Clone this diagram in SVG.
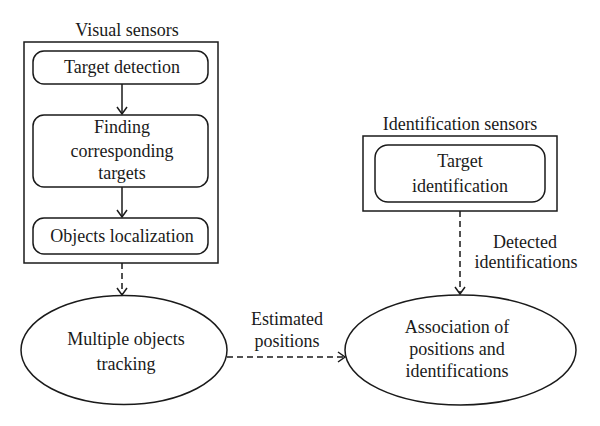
<svg xmlns="http://www.w3.org/2000/svg" width="600" height="426" viewBox="0 0 600 426">
<style>
text{font-family:"Liberation Serif","Times New Roman",serif;font-size:18px;fill:#1a1a1a;text-anchor:middle}
.box{fill:#fff;stroke:#1a1a1a;stroke-width:1.5}
.ln{fill:none;stroke:#1a1a1a;stroke-width:1.5}
.dash{stroke-dasharray:6 4}
</style>
<defs>
<marker id="ah" markerWidth="12" markerHeight="12" refX="10" refY="6" orient="auto" markerUnits="userSpaceOnUse">
<path d="M3,1 L10,6 L3,11" fill="none" stroke="#1a1a1a" stroke-width="1.5"/>
</marker>
</defs>
<rect width="600" height="426" fill="#fff"/>
<g id="visual-sensors">
<text x="127" y="36">Visual sensors</text>
<rect class="box" x="24" y="42" width="194" height="221"/>
</g>
<g id="target-detection">
<rect class="box" x="33" y="51" width="175" height="33" rx="11"/>
<text x="122" y="73">Target detection</text>
</g>
<g id="finding-targets">
<rect class="box" x="33" y="115" width="175" height="72" rx="11"/>
<text x="122" y="133">Finding</text>
<text x="122" y="157">corresponding</text>
<text x="122" y="179">targets</text>
</g>
<g id="objects-localization">
<rect class="box" x="33" y="218" width="175" height="36" rx="11"/>
<text x="122" y="242">Objects localization</text>
</g>
<g id="identification-sensors">
<text x="460" y="130">Identification sensors</text>
<rect class="box" x="363" y="136" width="194" height="75"/>
</g>
<g id="target-identification">
<rect class="box" x="375" y="145" width="170" height="57" rx="13"/>
<text x="460" y="167">Target</text>
<text x="460" y="192">identification</text>
</g>
<g id="multiple-objects-tracking">
<ellipse class="box" cx="124" cy="350" rx="103" ry="54.5"/>
<text x="126" y="345">Multiple objects</text>
<text x="126" y="370">tracking</text>
</g>
<g id="association">
<ellipse class="box" cx="460.5" cy="350" rx="115.5" ry="55"/>
<text x="457" y="333">Association of</text>
<text x="457" y="355">positions and</text>
<text x="457" y="377">identifications</text>
</g>
<g id="connectors">
<line class="ln" x1="122" y1="84" x2="122" y2="114" marker-end="url(#ah)"/>
<line class="ln" x1="122" y1="187" x2="122" y2="217" marker-end="url(#ah)"/>
<line class="ln dash" x1="122" y1="263" x2="122" y2="295" marker-end="url(#ah)"/>
<line class="ln dash" x1="460" y1="211" x2="460" y2="294" marker-end="url(#ah)"/>
<line class="ln dash" x1="227" y1="357" x2="345" y2="357" marker-end="url(#ah)"/>
<text x="287" y="325">Estimated</text>
<text x="287" y="347">positions</text>
<text x="525" y="248">Detected</text>
<text x="526" y="268">identifications</text>
</g>
</svg>
